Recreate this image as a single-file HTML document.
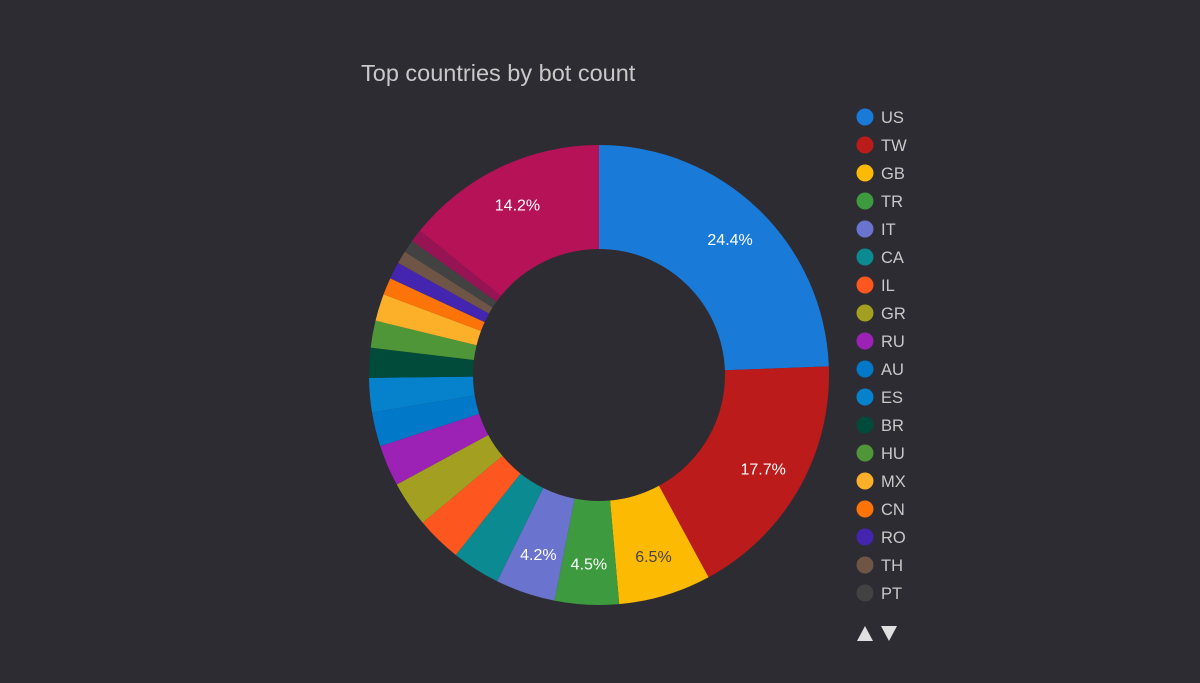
<!DOCTYPE html>
<html><head><meta charset="utf-8"><style>
body{margin:0;background:#2e2c33;width:1200px;height:678px;overflow:hidden;font-family:"Liberation Sans",sans-serif}
</style></head><body>
<svg id="chart" width="1200" height="678" xmlns="http://www.w3.org/2000/svg">
<text x="361" y="81" font-size="23.5" fill="#c8c8c8" font-family="Liberation Sans, sans-serif">Top countries by bot count</text>
<g id="slices"></g><g id="labels"></g><g id="legend"></g>
<g>
<polygon points="857,641 873,641 865,626" fill="#e0e0e0"/>
<polygon points="881,626 897,626 889,641" fill="#e0e0e0"/>
</g>
</svg>
<script>
const categories=["US","TW","GB","TR","IT","CA","IL","GR","RU","AU","ES","BR","HU","MX","CN","RO","TH","PT","NL","Other"];
const values=[24.4,17.7,6.5,4.5,4.2,3.4,3.2,3.2,2.9,2.4,2.4,2.1,1.9,1.9,1.2,1.2,0.9,0.9,0.9,14.2];
const colors=["#1a7ad8","#bb1b1b","#fcba03","#3d9a3f","#6a74cf","#0b8a92","#fd561f","#a3a021","#9b22b5","#0179c8","#0682cc","#014b3a","#4e9637","#fcb02a","#fc7407","#4325b0","#6e5545","#424242","#961454","#b51257"];
const shownLabels=[true,true,true,true,true,false,false,false,false,false,false,false,false,false,false,false,false,false,false,true];
const legendCount=18;
const NS="http://www.w3.org/2000/svg";
const cx=599,cy=375,R=230,r=126;
const total=values.reduce((a,b)=>a+b,0);
function pt(a,rad){return [cx+rad*Math.sin(a),cy-rad*Math.cos(a)];}
let acc=0;
const gS=document.getElementById('slices'),gL=document.getElementById('labels'),gG=document.getElementById('legend');
values.forEach((v,i)=>{
 const a0=acc/total*2*Math.PI;acc+=v;const a1=acc/total*2*Math.PI;
 const lg=(a1-a0)>Math.PI?1:0;
 const [x0,y0]=pt(a0,R),[x1,y1]=pt(a1,R),[x2,y2]=pt(a1,r),[x3,y3]=pt(a0,r);
 const p=document.createElementNS(NS,'path');
 p.setAttribute('d',`M${x0},${y0}A${R},${R} 0 ${lg} 1 ${x1},${y1}L${x2},${y2}A${r},${r} 0 ${lg} 0 ${x3},${y3}Z`);
 p.setAttribute('fill',colors[i]);
 
 
 gS.appendChild(p);
 if(shownLabels[i]){
  const [lx,ly]=pt((a0+a1)/2,189);
  const t=document.createElementNS(NS,'text');
  t.setAttribute('x',lx);t.setAttribute('y',ly+6);t.setAttribute('text-anchor','middle');
  t.setAttribute('font-size','16');t.setAttribute('fill',i==2?'#444':'#fff');
  t.textContent=v.toFixed(1)+'%';
  
  
  gL.appendChild(t);
 }
 if(i<legendCount){
  const y=117+i*28;
  const g=document.createElementNS(NS,'g');
  
  
  const c=document.createElementNS(NS,'circle');
  c.setAttribute('cx',865);c.setAttribute('cy',y);c.setAttribute('r',8.5);c.setAttribute('fill',colors[i]);
  const t=document.createElementNS(NS,'text');
  t.setAttribute('x',881);t.setAttribute('y',y+6);t.setAttribute('font-size','16.5');t.setAttribute('fill','#c8c8c8');
  t.textContent=categories[i];
  g.appendChild(c);g.appendChild(t);gG.appendChild(g);
 }
});
</script>
</body></html>
